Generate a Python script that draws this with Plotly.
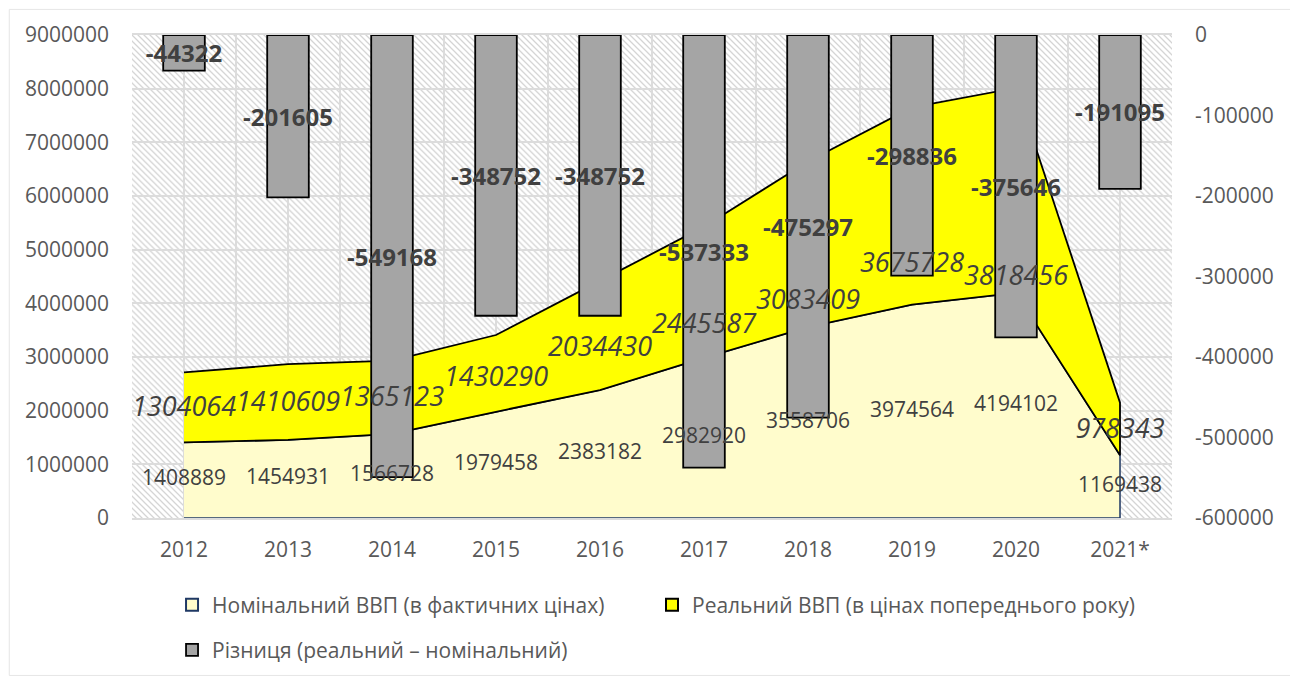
import base64
import plotly.graph_objects as go

years = ["2012", "2013", "2014", "2015", "2016", "2017", "2018", "2019", "2020", "2021*"]
nominal = [1408889, 1454931, 1566728, 1979458, 2383182, 2982920, 3558706, 3974564, 4194102, 1169438]
real = [1304064, 1410609, 1365123, 1430290, 2034430, 2445587, 3083409, 3675728, 3818456, 978343]
diff = [-44322, -201605, -549168, -348752, -348752, -537333, -475297, -298836, -375646, -191095]

y_ticks = list(range(0, 9000001, 1000000))
y2_ticks = list(range(-600000, 1, 100000))

# where each italic label sits inside the yellow band (share of the band height)
real_label_share = [0.48, 0.47, 0.47, 0.42, 0.37, 0.24, 0.15, 0.20, 0.07, 0.46]

name_nom = "Номінальний ВВП (в фактичних цінах)"
name_real = "Реальний ВВП (в цінах попереднього року)"
name_diff = "Різниця (реальний – номінальний)"

FONT = "Open Sans, Noto Sans, sans-serif"
GRID = "#DCDCDC"
TXT = "#404040"
TICK = "#595959"

stacked = [n + r for n, r in zip(nominal, real)]

# hatched plot background as an svg pattern
svg = """<svg xmlns="http://www.w3.org/2000/svg" width="1040" height="484" viewBox="0 0 1040 484">
<defs><pattern id="h" patternUnits="userSpaceOnUse" width="6" height="6">
<path d="M-1,-1 L7,7 M-4,2 L1,7 M2,-4 L7,1" stroke="#D4D4D4" stroke-width="1.3"/>
</pattern></defs>
<rect width="1040" height="484" fill="white"/>
<rect width="1040" height="484" fill="url(#h)"/>
</svg>"""
hatch = "data:image/svg+xml;base64," + base64.b64encode(svg.encode()).decode()

fig = go.Figure()

fig.add_trace(go.Scatter(
    x=years + years[::-1], y=nominal + [0] * len(years),
    fill="toself", fillcolor="#FFFCCC", mode="lines",
    line=dict(color="#1F3864", width=1.5), showlegend=False, hoverinfo="skip"
))
fig.add_trace(go.Scatter(
    x=years + years[::-1], y=stacked + nominal[::-1],
    fill="toself", fillcolor="#FFFF00", mode="lines",
    line=dict(color="black", width=1.8), showlegend=False, hoverinfo="skip"
))

# legend swatches
fig.add_trace(go.Bar(x=[None], y=[None], name=name_nom, legend="legend",
                     marker=dict(color="#FFFCCC", line=dict(color="#1F3864", width=2))))
fig.add_trace(go.Bar(x=[None], y=[None], name=name_real, legend="legend3",
                     marker=dict(color="#FFFF00", line=dict(color="black", width=2))))

fig.add_trace(go.Bar(
    x=years, y=diff, yaxis="y2", name=name_diff, legend="legend2",
    width=0.4, marker=dict(color="#A5A5A5", line=dict(color="black", width=1.8)),
    text=[str(v) for v in diff], textposition="inside", insidetextanchor="middle",
    constraintext="none", textangle=0,
    textfont=dict(family=FONT, size=24, color=TXT, weight="bold")
))

fig.add_trace(go.Scatter(
    x=years, y=[n / 2 for n in nominal], xaxis="x2", yaxis="y3",
    mode="text", text=[str(v) for v in nominal], showlegend=False,
    textfont=dict(family=FONT, size=21, color=TXT), hoverinfo="skip"
))
fig.add_trace(go.Scatter(
    x=years, y=[n + r * s for n, r, s in zip(nominal, real, real_label_share)],
    xaxis="x2", yaxis="y3",
    mode="text", text=[str(v) for v in real], showlegend=False,
    textfont=dict(family=FONT, size=27, color=TXT, style="italic"), hoverinfo="skip"
))

leg = dict(orientation="h", xanchor="left", yanchor="middle",
           font=dict(size=21, color=TICK), bgcolor="rgba(0,0,0,0)")

fig.update_layout(
    width=1290, height=674,
    margin=dict(l=124, r=126, t=27, b=163),
    paper_bgcolor="white", plot_bgcolor="rgba(0,0,0,0)",
    font=dict(family=FONT, color=TICK),
    barmode="overlay",
    xaxis=dict(type="category", categoryarray=years, range=[-0.5, 9.5],
               showgrid=True, gridcolor=GRID, gridwidth=1.5,
               showline=True, linecolor=GRID, linewidth=1.5, mirror=True,
               ticks="", ticklabelstandoff=12, tickfont=dict(size=21, color=TICK)),
    xaxis2=dict(type="category", categoryarray=years, range=[-0.5, 9.5],
                overlaying="x", tickson="boundaries", showgrid=True,
                gridcolor=GRID, gridwidth=1.5, showticklabels=False, ticks=""),
    yaxis=dict(range=[0, 9000000], tickvals=y_ticks, ticktext=[str(v) for v in y_ticks],
               showgrid=True, gridcolor=GRID, gridwidth=1.5, zeroline=False,
               ticks="", ticklabelstandoff=22, tickfont=dict(size=21, color=TICK)),
    yaxis2=dict(range=[-600000, 0], overlaying="y", side="right",
                tickvals=y2_ticks, ticktext=[str(v) for v in y2_ticks],
                showgrid=False, zeroline=False, ticks="", ticklabelstandoff=22,
                tickfont=dict(size=21, color=TICK)),
    yaxis3=dict(range=[0, 9000000], overlaying="y", anchor="x2", visible=False),
    legend=dict(leg, x=0.0385, y=-0.178),
    legend3=dict(leg, x=0.5, y=-0.178),
    legend2=dict(leg, x=0.0385, y=-0.271),
    images=[dict(source=hatch, xref="paper", yref="paper", x=0, y=1, sizex=1, sizey=1,
                 sizing="stretch", xanchor="left", yanchor="top", layer="below")],
    shapes=[dict(type="rect", xref="paper", yref="paper", x0=-0.118, x1=1.114,
                 y0=-0.326, y1=1.053, line=dict(color="#E6E6E6", width=1), layer="below")],
)

fig.write_html("out.html")
